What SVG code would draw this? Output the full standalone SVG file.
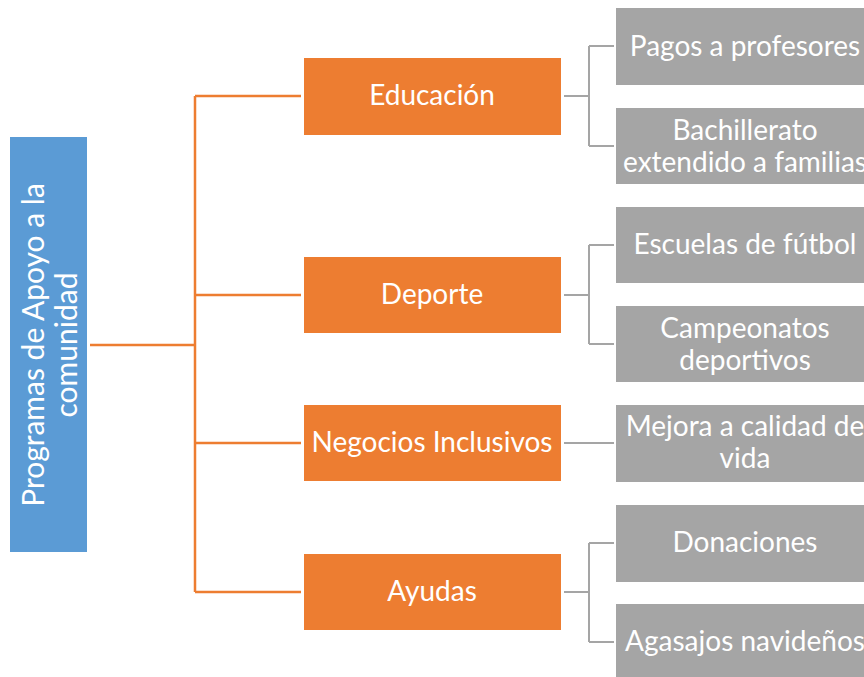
<svg xmlns="http://www.w3.org/2000/svg" width="864" height="677" viewBox="0 0 864 677">
<style>
.org{fill:#ED7D31;}
.gry{fill:#A5A5A5;}
.blu{fill:#5B9BD5;}
.t{font-family:Lato,"Open Sans",sans-serif;font-size:28px;fill:#FFFFFF;text-anchor:middle;}
.r{font-size:30px;}
.oc{stroke:#ED7D31;stroke-width:2.5;fill:none;}
.gc{stroke:#A5A5A5;stroke-width:2;fill:none;}
</style>
<rect width="864" height="677" fill="#FFFFFF"/>
<g id="connectors">
<path class="oc" d="M90,345 H195 M195,96 V592 M195,96 H301 M195,295 H301 M195,443 H301 M195,592 H301"/>
<path class="gc" d="M564,96 H589 M589,46 V146 M589,46 H614 M589,146 H614"/>
<path class="gc" d="M564,295 H589 M589,245 V344 M589,245 H614 M589,344 H614"/>
<path class="gc" d="M564,443 H614"/>
<path class="gc" d="M564,592 H589 M589,543 V642 M589,543 H614 M589,642 H614"/>
</g>
<g id="root">
<rect class="blu" x="10" y="137" width="77" height="415"/>
<text class="t r" transform="translate(48,345) rotate(-90)"><tspan x="0" y="-4">Programas de Apoyo a la</tspan><tspan x="0" y="29">comunidad</tspan></text>
</g>
<g id="educacion">
<rect class="org" x="304" y="58" width="257" height="77"/>
<text class="t" x="432" y="105">Educación</text>
</g>
<g id="deporte">
<rect class="org" x="304" y="257" width="257" height="76"/>
<text class="t" x="432" y="304">Deporte</text>
</g>
<g id="negocios">
<rect class="org" x="304" y="405" width="257" height="76"/>
<text class="t" x="432" y="452">Negocios Inclusivos</text>
</g>
<g id="ayudas">
<rect class="org" x="304" y="554" width="257" height="76"/>
<text class="t" x="432" y="601">Ayudas</text>
</g>
<g id="pagos">
<rect class="gry" x="616" y="8" width="258" height="77"/>
<text class="t" x="745" y="56">Pagos a profesores</text>
</g>
<g id="bachillerato">
<rect class="gry" x="616" y="108" width="258" height="76"/>
<text class="t" x="745" y="140">Bachillerato</text>
<text class="t" x="745" y="172">extendido a familias</text>
</g>
<g id="escuelas">
<rect class="gry" x="616" y="207" width="258" height="76"/>
<text class="t" x="745" y="254">Escuelas de fútbol</text>
</g>
<g id="campeonatos">
<rect class="gry" x="616" y="306" width="258" height="76"/>
<text class="t" x="745" y="338">Campeonatos</text>
<text class="t" x="745" y="370">deportivos</text>
</g>
<g id="mejora">
<rect class="gry" x="616" y="405" width="258" height="77"/>
<text class="t" x="745" y="436">Mejora a calidad de</text>
<text class="t" x="745" y="468">vida</text>
</g>
<g id="donaciones">
<rect class="gry" x="616" y="505" width="258" height="77"/>
<text class="t" x="745" y="552">Donaciones</text>
</g>
<g id="agasajos">
<rect class="gry" x="616" y="604" width="258" height="76"/>
<text class="t" x="745" y="651">Agasajos navideños</text>
</g>
</svg>
